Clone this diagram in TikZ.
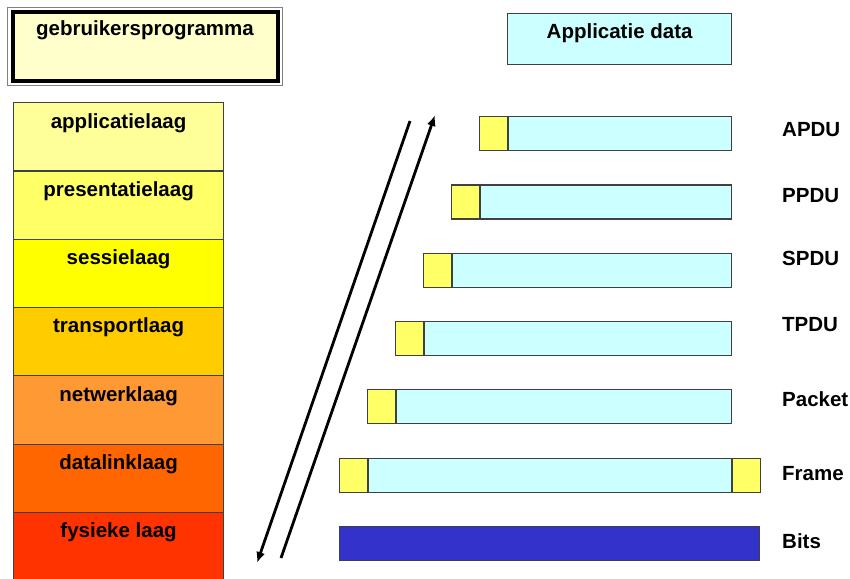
\documentclass[tikz,border=0pt]{standalone}
\usepackage{fontspec}
\setmainfont{Liberation Sans}
\usetikzlibrary{positioning,arrows.meta}
\definecolor{lichtgeel}{HTML}{FFFFCC}
\definecolor{kopgeel}{HTML}{FFFF66}
\definecolor{lichtcyaan}{HTML}{CCFFFF}
\definecolor{bitsblauw}{HTML}{3333CC}
\definecolor{randgrijs}{HTML}{404040}
\def\tekstfont{\fontsize{20.5}{24}\selectfont\bfseries}
\tikzset{
  vak/.style={draw=randgrijs,line width=1.2pt,inner sep=0pt,anchor=north west},
  laag/.style={vak,minimum width=210pt,minimum height=68.3pt},
  kop/.style={vak,fill=kopgeel,minimum width=28pt,minimum height=34pt},
  data/.style={vak,fill=lichtcyaan,minimum height=34pt},
  tekst/.style={font=\tekstfont,inner sep=0pt},
  pijl/.style={line width=2.8pt,-{Latex[length=11pt,width=9pt]}}
}

\begin{document}
\begin{tikzpicture}[x=1pt,y=-1pt]
\useasboundingbox (0,0) rectangle (850,578);
% gebruikersprogramma
\node[vak,draw=black,line width=4pt,fill=lichtgeel,minimum width=265pt,minimum height=68pt] (gebr) at (10.5,10.5) {};
\draw[gray,line width=1pt] ([shift={(-3pt,3pt)}]gebr.north west) rectangle ([shift={(3pt,-3pt)}]gebr.south east);
\node[tekst,anchor=base] at ([yshift=-25pt]gebr.north) {gebruikersprogramma};
% OSI lagen
\foreach \naam/\kleur/\tekst [count=\i from 0] in {app/FFFF99/applicatielaag,pres/FFFF66/presentatielaag,sessie/FFFF00/sessielaag,transport/FFCC00/transportlaag,netwerk/FF9933/netwerklaag,datalink/FF6600/datalinklaag,fysiek/FF3300/fysieke laag}{
  \definecolor{laagkleur}{HTML}{\kleur}
  \node[laag,fill=laagkleur] (\naam) at (13,{102+68.3*\i}) {};
  \node[tekst,anchor=base] at ([yshift=-26pt]\naam.north) {\tekst};
}
% applicatie data
\node[vak,fill=lichtcyaan,minimum width=224pt,minimum height=51pt] (appdata) at (507,13) {};
\node[tekst,anchor=base] at ([yshift=-26pt]appdata.north) {Applicatie data};
% PDU's
\foreach \naam/\tekst/\ylab [count=\i from 0] in {apdu/APDU/130,ppdu/PPDU/196,spdu/SPDU/258,tpdu/TPDU/325,packet/Packet/399,frame/Frame/474}{
  \pgfmathsetmacro\xk{479-28*\i}
  \pgfmathsetmacro\bd{222.5+28*\i}
  \node[kop] (kop-\naam) at (\xk,{116+68.3*\i}) {};
  \node[data,minimum width=\bd pt,right=0pt of kop-\naam] (data-\naam) {};
  \node[tekst,anchor=west] (lab-\naam) at (782,\ylab) {\tekst};
}
\node[kop,right=0pt of data-frame] (staart-frame) {};
\node[vak,fill=bitsblauw,minimum width=420pt,minimum height=34pt] (bits) at (339,526) {};
\node[tekst,anchor=west] (lab-bits) at (782,541) {Bits};
% pijlen
\coordinate (neer-start) at (410,121);
\coordinate (neer-eind) at (257,563);
\coordinate (op-start) at (281,558);
\coordinate (op-eind) at (435,115);
\draw[pijl] (neer-start) -- (neer-eind);
\draw[pijl] (op-start) -- (op-eind);
\end{tikzpicture}
\end{document}
